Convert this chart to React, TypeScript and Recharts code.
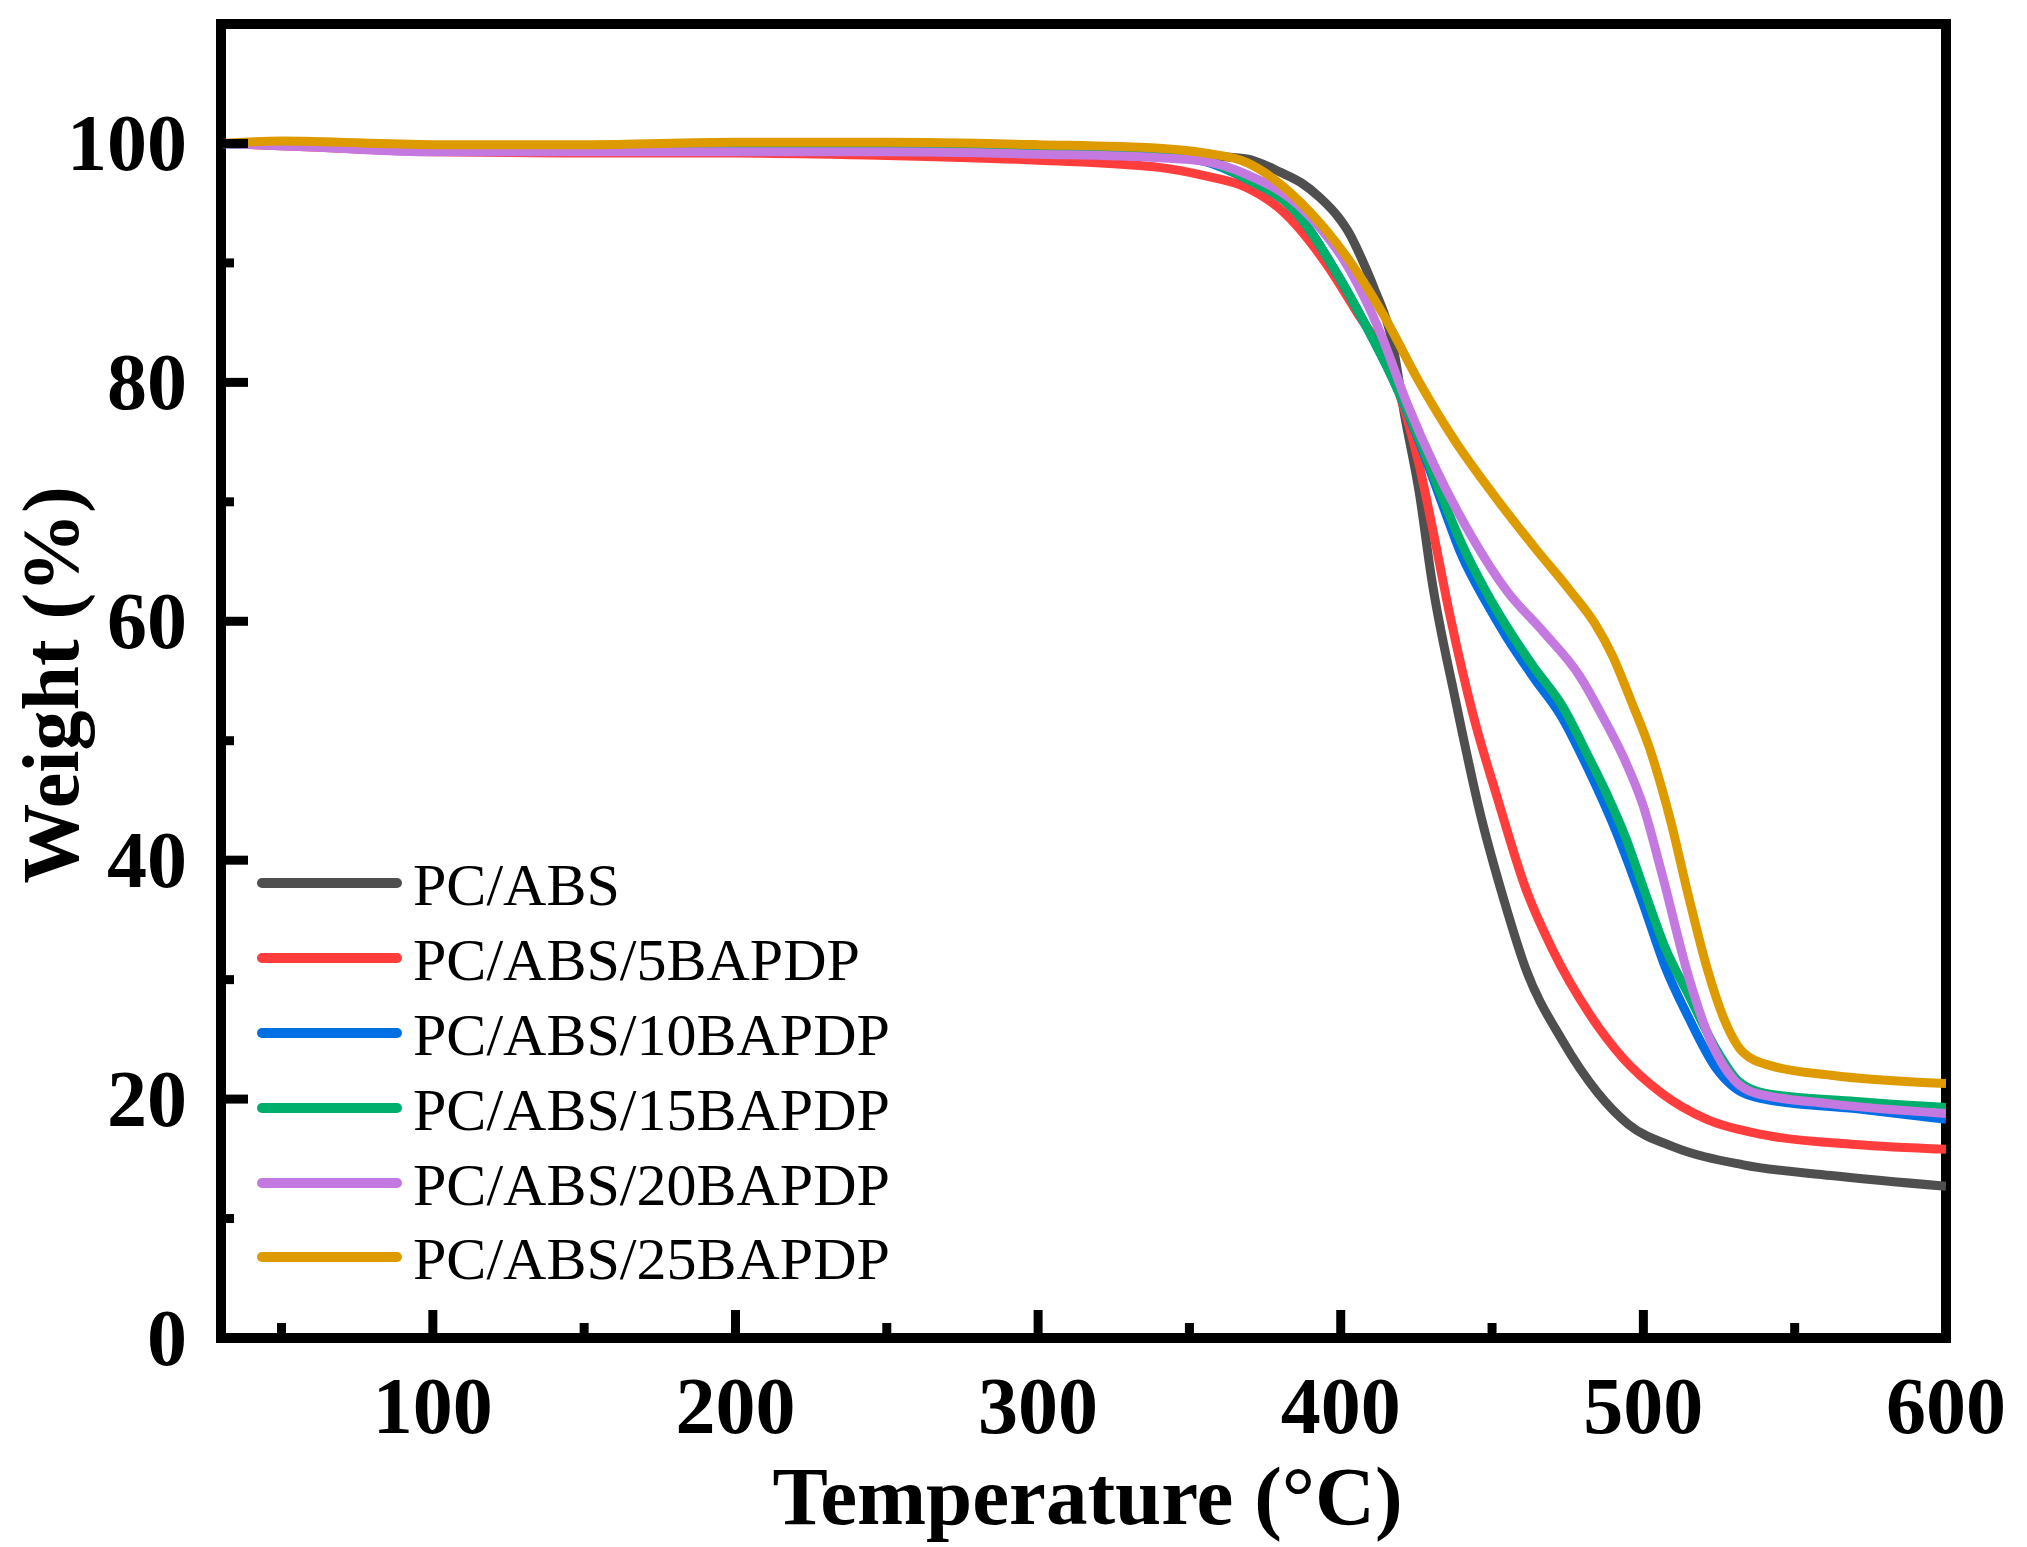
import React from "react";
import { LineChart, Line, XAxis, YAxis, Legend, ReferenceArea, Label } from "recharts";

// temperature (°C) and weight (%)
const pcAbsT = [30, 60, 100, 150, 200, 250, 300, 340, 360, 369, 380, 387, 393, 399, 403, 407, 411, 417, 421, 426, 430, 438, 446, 454, 461, 473, 485, 495, 510, 533, 562, 600];
const pcAbsW = [100, 99.8, 99.4, 99.3, 99.4, 99.4, 99.3, 99.1, 98.9, 98.7, 97.6, 96.7, 95.5, 93.9, 92.4, 90.3, 87.9, 83.4, 77.4, 70.7, 63.6, 53.3, 44, 36.6, 31, 25, 20.5, 17.9, 16, 14.5, 13.6, 12.7];

const bapdp5T = [30, 60, 100, 150, 200, 250, 300, 340, 355, 369, 380, 395, 405, 417, 426, 430, 436, 443.5, 452, 461, 470, 482, 493, 506, 521, 540, 570, 600];
const bapdp5W = [100, 99.7, 99.3, 99.2, 99.2, 99.0, 98.6, 98.0, 97.3, 96.3, 94.5, 90, 86, 80.8, 73, 68.2, 60.6, 52.4, 45, 37.7, 32.5, 27.2, 23.5, 20.5, 18.3, 17, 16.2, 15.8];

const bapdp10T = [30, 60, 100, 150, 200, 250, 300, 340, 355, 369, 384, 399, 408, 417, 426, 433, 440, 448, 455, 464, 473, 482, 490, 500, 507, 515, 524, 531, 540, 570, 600];
const bapdp10W = [100, 99.8, 99.5, 99.5, 99.5, 99.5, 99.3, 99.0, 98.5, 97, 94.6, 89, 84.9, 80.4, 75, 70.2, 65.5, 61.6, 58.6, 55.2, 52, 47.5, 43, 36.3, 31.2, 26.8, 22.6, 20.8, 20.0, 19.2, 18.3];

const bapdp15T = [30, 60, 100, 150, 200, 250, 300, 340, 355, 369, 384, 399, 408, 417, 426, 433, 440.5, 448, 455, 464, 473, 482, 488, 494, 500, 507, 515, 524, 531, 540, 570, 600];
const bapdp15W = [100, 99.8, 99.5, 99.5, 99.6, 99.6, 99.4, 99.1, 98.6, 97, 94.6, 89, 84.9, 80.4, 75.2, 70.7, 66.2, 62.5, 59.5, 56.1, 53, 48.6, 45.5, 42, 37.7, 32.8, 28.7, 24.2, 21.6, 20.5, 19.8, 19.3];

const bapdp20T = [30, 60, 100, 150, 200, 250, 300, 340, 355, 369, 387, 403, 413, 422, 431, 443.5, 455, 467, 479, 486.6, 494, 500, 506, 515, 522, 530, 537, 562, 600];
const bapdp20W = [100, 99.7, 99.3, 99.3, 99.3, 99.3, 99.1, 98.8, 98.5, 97.4, 94.6, 89.4, 84.2, 78.2, 73, 67, 62.5, 59.1, 55.4, 52, 48.3, 44.5, 39, 30.2, 25, 21.6, 20.5, 19.6, 18.8];

const bapdp25T = [30, 50, 100, 150, 200, 250, 300, 340, 355, 369, 387, 402, 414, 426, 437.5, 449, 464, 476, 484, 490, 496, 502, 509, 515, 521, 527, 533, 542, 562, 600];
const bapdp25W = [100, 100.2, 99.9, 99.9, 100.1, 100.1, 99.9, 99.6, 99.2, 98.4, 95, 90.5, 85.7, 80, 75.2, 71.1, 66.2, 62.5, 59.8, 57.0, 53.3, 49.4, 43.3, 36.9, 31, 26.5, 23.9, 22.8, 22, 21.3];

const xTicks = [50, 100, 150, 200, 250, 300, 350, 400, 450, 500, 550, 600];
const yTicks = [0, 10, 20, 30, 40, 50, 60, 70, 80, 90, 100];

const zip = (t: number[], w: number[]) => t.map((v, i) => ({ t: v, w: w[i] }));

const series = [
  { name: "PC/ABS", color: "#4f4f4f", data: zip(pcAbsT, pcAbsW) },
  { name: "PC/ABS/5BAPDP", color: "#ff3d3d", data: zip(bapdp5T, bapdp5W) },
  { name: "PC/ABS/10BAPDP", color: "#006fe3", data: zip(bapdp10T, bapdp10W) },
  { name: "PC/ABS/15BAPDP", color: "#00af6b", data: zip(bapdp15T, bapdp15W) },
  { name: "PC/ABS/20BAPDP", color: "#c479e0", data: zip(bapdp20T, bapdp20W) },
  { name: "PC/ABS/25BAPDP", color: "#de9b00", data: zip(bapdp25T, bapdp25W) },
];

const FONT = "'Liberation Serif', 'Times New Roman', serif";

function XTick(props: any) {
  const { x, y, payload } = props;
  const major = payload.value % 100 === 0;
  return (
    <g>
      <line x1={x} x2={x} y1={y} y2={y - (major ? 28 : 15)} stroke="#000" strokeWidth={9} />
      {major && (
        <text x={x} y={y + 95} textAnchor="middle" fontFamily={FONT} fontWeight="bold" fontSize={80} fill="#000">
          {payload.value}
        </text>
      )}
    </g>
  );
}

function YTick(props: any) {
  const { x, y, payload } = props;
  const major = payload.value % 20 === 0;
  return (
    <g>
      <line x1={x} x2={x + (major ? 27 : 13)} y1={y} y2={y} stroke="#000" strokeWidth={9} />
      {major && (
        <text x={x - 34} y={y + 27} textAnchor="end" fontFamily={FONT} fontWeight="bold" fontSize={80} fill="#000">
          {payload.value}
        </text>
      )}
    </g>
  );
}

function renderLegend() {
  return (
    <div style={{ fontFamily: FONT, fontSize: 60, color: "#000" }}>
      {series.map((s) => (
        <div key={s.name} style={{ display: "flex", alignItems: "center", height: 74.8, whiteSpace: "nowrap" }}>
          <div style={{ width: 145, height: 10, borderRadius: 5, background: s.color, marginRight: 11, flex: "none" }} />
          <span style={{ lineHeight: 1, position: "relative", top: 2 }}>{s.name}</span>
        </div>
      ))}
    </div>
  );
}

export default function App() {
  return (
    <div style={{ position: "absolute", left: 0, top: 0, width: 2027, height: 1547, background: "#fff" }}>
      <LineChart width={2027} height={1547} margin={{ top: 24, right: 81, bottom: 9, left: 21 }}>
        <XAxis
          type="number"
          dataKey="t"
          domain={[30, 600]}
          ticks={xTicks}
          allowDataOverflow
          axisLine={false}
          tickLine={false}
          tickSize={0}
          tickMargin={0}
          height={200}
          tick={<XTick />}
        >
          <Label
            content={(p: any) => (
              <text
                x={p.viewBox.x + p.viewBox.width / 2 + 4}
                y={p.viewBox.y + 186}
                textAnchor="middle"
                fontFamily={FONT}
                fontWeight="bold"
                fontSize={83}
                fill="#000"
              >
                Temperature (°C)
              </text>
            )}
          />
        </XAxis>
        <YAxis
          type="number"
          domain={[0, 110]}
          ticks={yTicks}
          allowDataOverflow
          axisLine={false}
          tickLine={false}
          tickSize={0}
          tickMargin={0}
          width={200}
          tick={<YTick />}
        >
          <Label
            content={(p: any) => {
              const cx = p.viewBox.x + 57;
              const cy = p.viewBox.y + p.viewBox.height / 2 + 4;
              return (
                <text
                  x={cx}
                  y={cy}
                  transform={`rotate(-90, ${cx}, ${cy})`}
                  textAnchor="middle"
                  fontFamily={FONT}
                  fontWeight="bold"
                  fontSize={80}
                  fill="#000"
                >
                  Weight (%)
                </text>
              );
            }}
          />
        </YAxis>
        {series.map((s) => (
          <Line
            key={s.name}
            data={s.data}
            dataKey="w"
            name={s.name}
            type="monotone"
            stroke={s.color}
            strokeWidth={9}
            dot={false}
            isAnimationActive={false}
          />
        ))}
        <ReferenceArea x1={30} x2={600} y1={0} y2={110} fill="none" stroke="#000" strokeWidth={10} ifOverflow="visible" />
        <Legend
          layout="horizontal"
          verticalAlign="middle"
          align="center"
          wrapperStyle={{ left: 257, top: 846, width: "auto" }}
          content={renderLegend}
        />
      </LineChart>
    </div>
  );
}
